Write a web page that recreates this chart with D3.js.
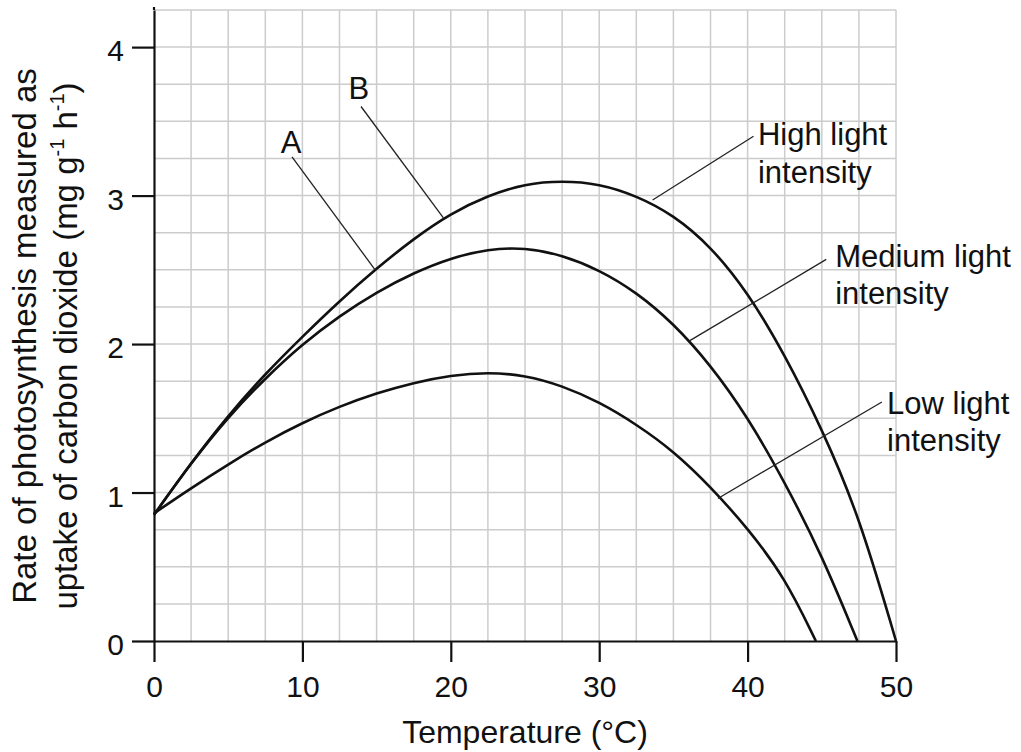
<!DOCTYPE html>
<html>
<head>
<meta charset="utf-8">
<script src="https://cdn.jsdelivr.net/npm/d3@7.9.0/dist/d3.min.js"></script>
<style>
  body { margin: 0; background: #fff; }
  svg text { font-family: "Liberation Sans", Arial, sans-serif; fill: #111; }
</style>
</head>
<body>
<svg id="chart" width="1021" height="752"></svg>
<script>
// temperature (°C) vs rate (mg g-1 h-1)
const highLight = [[0,0.85],[2.5,1.2],[5,1.52],[7.5,1.8],[10,2.05],[12.5,2.29],[15,2.51],[17.5,2.71],[20,2.88],[22.5,3.0],[25,3.08],[27.5,3.1],[30,3.08],[32.5,3.0],[35,2.87],[37.5,2.66],[40,2.35],[42.5,1.93],[45,1.43],[47.5,0.85],[50,0]];
const mediumLight = [[0,0.85],[2.5,1.2],[5,1.51],[7.5,1.77],[10,2.0],[12.5,2.19],[15,2.35],[17.5,2.48],[20,2.58],[22.5,2.64],[25,2.65],[27.5,2.6],[30,2.5],[32.5,2.35],[35,2.14],[37.5,1.86],[40,1.51],[42.5,1.07],[45,0.58],[47.4,0]];
const lowLight = [[0,0.86],[2.5,1.03],[5,1.19],[7.5,1.34],[10,1.47],[12.5,1.58],[15,1.67],[17.5,1.74],[20,1.79],[22.5,1.81],[25,1.79],[27.5,1.72],[30,1.61],[32.5,1.46],[35,1.28],[37.5,1.04],[40,0.76],[42.5,0.43],[44.6,0]];

const xTicks = [0, 10, 20, 30, 40, 50];
const yTicks = [0, 1, 2, 3, 4];

// curve labels: text lines, text anchor point, leader line [from, to] in data units
const curveLabels = [
  { lines: ["High light", "intensity"], at: [40.7, 3.34], from: [40.4, 3.4], to: [33.6, 2.97] },
  { lines: ["Medium light", "intensity"], at: [45.9, 2.52], from: [45.3, 2.57], to: [36.05, 2.02] },
  { lines: ["Low light", "intensity"], at: [49.4, 1.53], from: [49.05, 1.61], to: [38.0, 0.96] }
];
const letterLabels = [
  { text: "A", at: [9.23, 3.29], from: [9.3, 3.26], to: [14.9, 2.5] },
  { text: "B", at: [13.8, 3.65], from: [13.95, 3.6], to: [19.5, 2.85] }
];

const svg = d3.select("#chart");
const x = d3.scaleLinear().domain([0, 50]).range([154, 896]);
const y = d3.scaleLinear().domain([0, 4.25]).range([641, 10]);

// grid
const grid = svg.append("g").attr("stroke", "#cccccc").attr("stroke-width", 1.5);
grid.selectAll("line.v")
  .data(d3.range(2.5, 50.01, 2.5))
  .join("line")
  .attr("x1", (d) => x(d)).attr("x2", (d) => x(d))
  .attr("y1", y(0)).attr("y2", y(4.25));
grid.selectAll("line.h")
  .data(d3.range(0.25, 4.26, 0.25))
  .join("line")
  .attr("x1", x(0)).attr("x2", x(50))
  .attr("y1", (d) => y(d)).attr("y2", (d) => y(d));

// axes
const xAxis = svg.append("g")
  .attr("transform", `translate(0,${y(0)})`)
  .call(d3.axisBottom(x).tickValues(xTicks).tickSize(21).tickSizeOuter(0).tickPadding(14));
const yAxis = svg.append("g")
  .attr("transform", `translate(${x(0)},0)`)
  .call(d3.axisLeft(y).tickValues(yTicks).tickFormat(d3.format("d")).tickSize(22).tickSizeOuter(0).tickPadding(8));

[xAxis, yAxis].forEach((g) => {
  g.selectAll("path, line").attr("stroke", "#111").attr("stroke-width", 2.2);
  g.selectAll("text").attr("font-size", 30).attr("fill", "#111")
    .style("font-family", '"Liberation Sans", Arial, sans-serif');
});
yAxis.selectAll("text").attr("dy", "0.46em");
yAxis.append("line").attr("x1", 0).attr("x2", 0).attr("y1", y(4.25)).attr("y2", 7)
  .attr("stroke", "#111").attr("stroke-width", 2.2);

// curves
const line = d3.line()
  .x((d) => x(d[0]))
  .y((d) => y(d[1]))
  .curve(d3.curveBasis);

svg.append("g")
  .selectAll("path")
  .data([highLight, mediumLight, lowLight])
  .join("path")
  .attr("d", line)
  .attr("fill", "none")
  .attr("stroke", "#111")
  .attr("stroke-width", 2.6);

// leader lines and labels
const leaders = svg.append("g").attr("stroke", "#222").attr("stroke-width", 1.3);
leaders.selectAll("line")
  .data(curveLabels.concat(letterLabels))
  .join("line")
  .attr("x1", (d) => x(d.from[0])).attr("y1", (d) => y(d.from[1]))
  .attr("x2", (d) => x(d.to[0])).attr("y2", (d) => y(d.to[1]));

curveLabels.forEach((c) => {
  const t = svg.append("text")
    .attr("x", x(c.at[0]))
    .attr("y", y(c.at[1]))
    .attr("font-size", 31);
  c.lines.forEach((s, i) => {
    t.append("tspan").attr("x", x(c.at[0])).attr("dy", i === 0 ? 0 : 37.5).text(s);
  });
});

svg.selectAll("text.letter")
  .data(letterLabels)
  .join("text")
  .attr("class", "letter")
  .attr("x", (d) => x(d.at[0]))
  .attr("y", (d) => y(d.at[1]))
  .attr("text-anchor", "middle")
  .attr("font-size", 31)
  .text((d) => d.text);

// axis titles
svg.append("text")
  .attr("x", x(25))
  .attr("y", 743)
  .attr("text-anchor", "middle")
  .attr("font-size", 32)
  .text("Temperature (°C)");

svg.append("text")
  .attr("transform", "translate(36,336) rotate(-90)")
  .attr("text-anchor", "middle")
  .attr("font-size", 33)
  .text("Rate of photosynthesis measured as");

const yt2 = svg.append("text")
  .attr("transform", "translate(77,346) rotate(-90)")
  .attr("text-anchor", "middle")
  .attr("font-size", 33);
yt2.append("tspan").text("uptake of carbon dioxide (mg g");
yt2.append("tspan").attr("font-size", 20).attr("dy", -13).text("-1");
yt2.append("tspan").attr("dy", 13).text(" h");
yt2.append("tspan").attr("font-size", 20).attr("dy", -13).text("-1");
yt2.append("tspan").attr("dy", 13).text(")");
</script>
</body>
</html>
